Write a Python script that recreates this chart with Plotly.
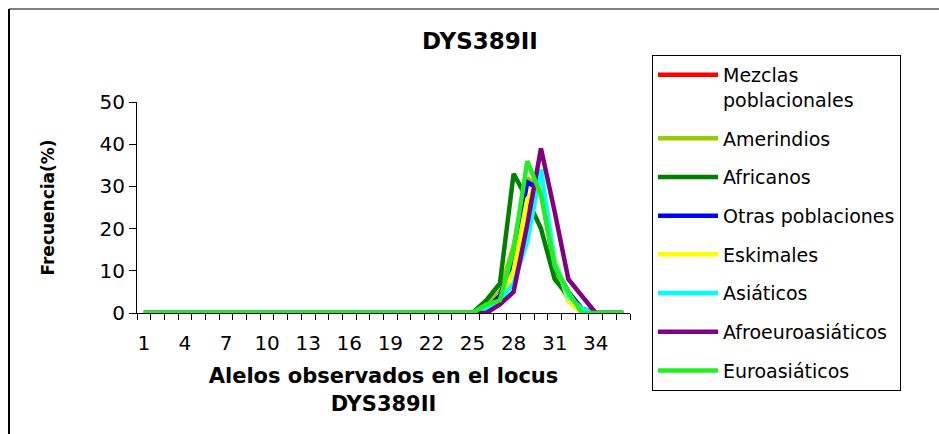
import plotly.graph_objects as go

alleles = list(range(1, 37))
tick_labels = [str(v) for v in range(1, 37, 3)]

def series(peak_part):
    # values for alleles 25..34 given; all others zero
    vals = [0.0] * 36
    for i, v in enumerate(peak_part):
        vals[24 + i] = v
    return vals

mezclas_vals      = series([0, 1, 4, 12, 27, 31, 12, 4, 1, 0])
amerindios_vals   = series([0, 2, 5, 16, 32, 29, 10, 3, 0, 0])
africanos_vals    = series([0, 3, 7, 33, 27, 20, 8, 4, 0, 0])
otras_vals        = series([0, 1, 4, 13, 31, 29, 11, 5, 1, 0])
eskimales_vals    = series([0, 1, 3, 10, 27, 32, 13, 3, 0, 0])
asiaticos_vals    = series([0, 1, 3, 7, 17, 34, 12, 4, 1, 0])
afroeuro_vals     = series([0, 0, 2, 5, 21, 39, 24, 8, 4, 0])
euroasiaticos_vals = series([0, 2, 3, 15, 36, 28, 11, 5, 0, 0])

names = ["Mezclas<br>poblacionales", "Amerindios", "Africanos", "Otras poblaciones",
         "Eskimales", "Asiáticos", "Afroeuroasiáticos", "Euroasiáticos"]
values = [mezclas_vals, amerindios_vals, africanos_vals, otras_vals,
          eskimales_vals, asiaticos_vals, afroeuro_vals, euroasiaticos_vals]
colors = ["#FF0000", "#99CC00", "#008000", "#0000FF",
          "#FFFF00", "#00FFFF", "#800080", "#22EE22"]

FONT = "DejaVu Sans"

fig = go.Figure()
for i, (n, v, c) in enumerate(zip(names, values, colors)):
    fig.add_trace(go.Scatter(x=alleles, y=v, mode="lines", name=n,
                             line=dict(color=c, width=4.5),
                             legendgroup=f"g{i}"))

boundaries = [a + 0.5 for a in range(0, 37)]

# plot area: x 137..630 px, y 102..313 px
L, R, T, B = 137, 630, 102, 313
W, H = 939, 434
pw, ph = R - L, B - T

def px(xp):
    return (xp - L) / pw

def py(yp):
    return (B - yp) / ph

fig.update_layout(
    width=W, height=H,
    margin=dict(l=L, r=W - R, t=T, b=H - B, pad=0),
    paper_bgcolor="white", plot_bgcolor="white",
    font=dict(family=FONT, color="black", size=19),
    title=dict(text="<b>DYS389II</b>", font=dict(family=FONT, size=23, color="black"),
               x=480 / W, xanchor="center", xref="container",
               y=1 - 41 / H, yanchor="middle", yref="container"),
    xaxis=dict(range=[0.5, 36.5], tickmode="array",
               tickvals=list(range(1, 37, 3)), ticktext=tick_labels,
               ticks="", showgrid=False, zeroline=False,
               showline=True, linecolor="black", linewidth=1,
               ticklabelstandoff=12,
               tickfont=dict(family=FONT, size=20),
               minor=dict(tickmode="array", tickvals=boundaries, ticks="outside",
                          ticklen=6, tickcolor="black", tickwidth=1, showgrid=False),
               title=dict(text="<b>Alelos observados en el locus<br>DYS389II</b>",
                          font=dict(family=FONT, size=21), standoff=14)),
    yaxis=dict(range=[0, 50], tickvals=[0, 10, 20, 30, 40, 50],
               ticks="outside", ticklen=7, tickcolor="black",
               showgrid=False, zeroline=False,
               showline=True, linecolor="black", linewidth=1,
               tickfont=dict(family=FONT, size=20),
               title=dict(text="<b>Frecuencia(%)</b>",
                          font=dict(family=FONT, size=17), standoff=40)),
    xaxis2=dict(overlaying="x", anchor="y", range=[0.5, 36.5], tickmode="array",
                tickvals=boundaries, ticks="inside", ticklen=6, tickcolor="black",
                showticklabels=False, showgrid=False, zeroline=False, showline=False,
                side="bottom"),
    yaxis2=dict(overlaying="y", anchor="x", range=[0, 50],
                tickvals=[0, 10, 20, 30, 40, 50], ticks="inside", ticklen=8,
                tickcolor="black", showticklabels=False, showgrid=False,
                zeroline=False, showline=False, side="left"),
    legend=dict(x=px(652), y=py(55), xanchor="left", yanchor="top",
                bordercolor="black", borderwidth=1, bgcolor="white",
                font=dict(family=FONT, size=19, color="black"),
                valign="top", tracegroupgap=11, itemwidth=60,
                maxheight=400),
    showlegend=True,
)

# outer chart-area border (top and left edges visible in the reference)
fig.add_shape(type="line", xref="paper", yref="paper",
              x0=px(9), x1=px(W + 5), y0=py(9), y1=py(9),
              line=dict(color="#808080", width=2))
fig.add_shape(type="line", xref="paper", yref="paper",
              x0=px(9), x1=px(9), y0=py(9), y1=py(H + 5),
              line=dict(color="black", width=2))

fig.write_html("out.html")
